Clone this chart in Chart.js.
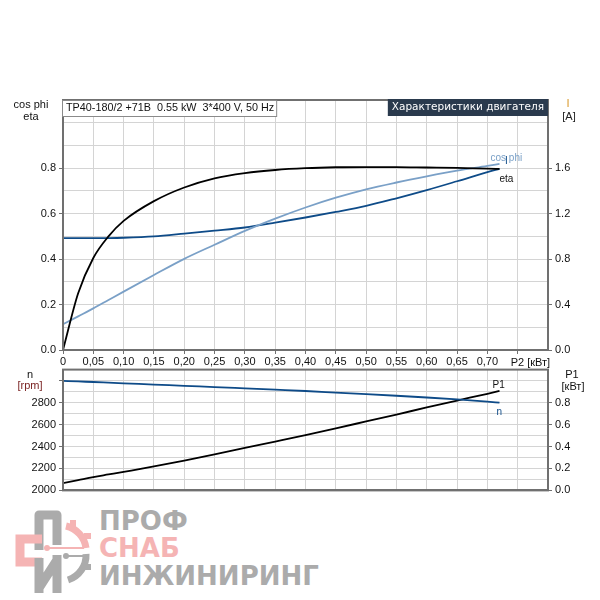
<!DOCTYPE html>
<html>
<head>
<meta charset="utf-8">
<script src="https://cdn.jsdelivr.net/npm/chart.js@4.4.1/dist/chart.umd.min.js"></script>
<style>
  body { margin: 0; background: #fff; width: 600px; height: 600px; position: relative; overflow: hidden; }
  #motorChart { position: absolute; left: 0; top: 0; }
  #speedChart { position: absolute; left: 0; top: 360px; }
  .logo-text { position: absolute; left: 99px; font-family: "DejaVu Sans", sans-serif; font-weight: bold; font-size: 26px; line-height: 26px; }
  #logoIcon { position: absolute; left: 0; top: 500px; }
</style>
</head>
<body>
<canvas id="motorChart" width="600" height="375"></canvas>
<canvas id="speedChart" width="600" height="140"></canvas>

<svg id="logoIcon" width="100" height="100" viewBox="0 0 100 100">
  <!-- П -->
  <path d="M39 50 V15 H57 V45" fill="none" stroke="#ababab" stroke-width="9" stroke-linejoin="round"/>
  <!-- С -->
  <path d="M42 39 H20 V62 H42" fill="none" stroke="#f5b4b4" stroke-width="9"/>
  <!-- И -->
  <path d="M39 93 V58 M57 55 V93 M39 88 L57 60" fill="none" stroke="#ababab" stroke-width="9"/>
  <!-- gear arcs -->
  <path d="M66 26 A26 26 0 0 1 86 48" fill="none" stroke="#f5b4b4" stroke-width="7"/>
  <path d="M86 54 A26 26 0 0 1 68 80" fill="none" stroke="#ababab" stroke-width="7"/>
  <rect x="70" y="20" width="6" height="7" fill="#f5b4b4"/>
  <rect x="84" y="33" width="7" height="6" fill="#f5b4b4"/>
  <rect x="84" y="64" width="7" height="6" fill="#ababab"/>
  <!-- connectors -->
  <line x1="47" y1="48" x2="84" y2="48" stroke="#f5b4b4" stroke-width="2"/>
  <circle cx="47" cy="48" r="3" fill="#f5b4b4"/>
  <line x1="66" y1="56" x2="84" y2="56" stroke="#ababab" stroke-width="2"/>
  <circle cx="66" cy="56" r="3" fill="#ababab"/>
</svg>
<div class="logo-text" style="top:508px;color:#ababab;">ПРОФ</div>
<div class="logo-text" style="top:535px;color:#f5b4b4;">СНАБ</div>
<div class="logo-text" style="top:563px;color:#ababab;">ИНЖИНИРИНГ</div>

<script>
// P2 [kW] sample points
const p2 = [0, 0.025, 0.05, 0.075, 0.1, 0.15, 0.2, 0.25, 0.3, 0.35, 0.4, 0.45, 0.5, 0.55, 0.6, 0.65, 0.7, 0.72];

// top chart: efficiency, power factor, current
const eta = [0, 0.25, 0.405, 0.50, 0.568, 0.655, 0.715, 0.755, 0.778, 0.792, 0.800, 0.804, 0.805, 0.805, 0.803, 0.801, 0.798, 0.797];
const cosPhi = [0.113, 0.148, 0.183, 0.22, 0.257, 0.33, 0.401, 0.463, 0.524, 0.578, 0.627, 0.670, 0.707, 0.737, 0.764, 0.789, 0.81, 0.819];
const current = [0.984, 0.984, 0.984, 0.985, 0.988, 1.0, 1.024, 1.05, 1.078, 1.12, 1.166, 1.215, 1.268, 1.335, 1.407, 1.485, 1.565, 1.594];

// bottom chart: speed and input power
const speed = [2998, 2992, 2987, 2981, 2975, 2964, 2952, 2941, 2929, 2917, 2905, 2891, 2877, 2862, 2846, 2828, 2808, 2799];
const p1 = [0.067, 0.094, 0.121, 0.145, 0.169, 0.218, 0.272, 0.329, 0.388, 0.445, 0.503, 0.565, 0.628, 0.691, 0.755, 0.818, 0.88, 0.906];

const headerText = 'TP40-180/2 +71B  0.55 kW  3*400 V, 50 Hz';
const panelTitle = 'Характеристики двигателя';

const GRID = '#d4d4d4';
const FRAME = '#707070';
const DARK_BLUE = '#0e4b88';
const LIGHT_BLUE = '#7aa0c7';
const tickFont = { family: '"Liberation Sans", Arial, sans-serif', size: 11 };

const pts = (ys) => p2.map((x, i) => ({ x: x, y: ys[i] }));
const hidden = 'rgba(0,0,0,0)';

function lineSet(label, ys, color, axis) {
  return {
    label: label,
    data: pts(ys),
    borderColor: color,
    borderWidth: 1.8,
    pointRadius: 0,
    cubicInterpolationMode: 'monotone',
    yAxisID: axis
  };
}

function lastPoint(chart, idx) {
  const d = chart.getDatasetMeta(idx).data;
  return d[d.length - 1];
}

function text(ctx, str, x, y, color, align, font) {
  ctx.fillStyle = color;
  ctx.textAlign = align;
  ctx.textBaseline = 'middle';
  ctx.font = font || '11px "Liberation Sans", Arial, sans-serif';
  ctx.fillText(str, x, y);
}

const motorDecor = {
  id: 'motorDecor',
  afterDraw(chart) {
    const { ctx, chartArea: a } = chart;
    ctx.save();
    ctx.strokeStyle = FRAME;
    ctx.lineWidth = 2;
    ctx.strokeRect(a.left, a.top, a.right - a.left, a.bottom - a.top);

    // header box
    const hFont = '10.8px "Liberation Sans", Arial, sans-serif';
    ctx.font = hFont;
    const hw = ctx.measureText(headerText).width + 6;
    ctx.fillStyle = '#fff';
    ctx.fillRect(a.left - 1, a.top, hw, 16);
    ctx.strokeStyle = '#8a8a8a';
    ctx.lineWidth = 1;
    ctx.strokeRect(a.left - 0.5, a.top + 0.5, hw, 16);
    text(ctx, headerText, a.left + 3, a.top + 8, '#111', 'left', hFont);

    // title box
    const tFont = '10.5px "DejaVu Sans", sans-serif';
    ctx.font = tFont;
    const tw = ctx.measureText(panelTitle).width + 8;
    ctx.fillStyle = '#2a3a4d';
    ctx.fillRect(a.right - tw, a.top - 1, tw, 17);
    text(ctx, panelTitle, a.right - tw + 4, a.top + 7.5, '#fff', 'left', tFont);

    // axis titles
    text(ctx, 'cos phi', a.left - 32, a.top + 5, '#111', 'center');
    text(ctx, 'eta', a.left - 32, a.top + 16.5, '#111', 'center');
    text(ctx, 'I', a.right + 20, a.top + 4, '#d99a2b', 'center');
    text(ctx, '[A]', a.right + 21, a.top + 17, '#222', 'center');

    // x axis unit in place of 0.75
    const xs = chart.scales.x;
    text(ctx, 'P2 [кВт]', xs.getPixelForValue(0.75) - 7, xs.top + 13, '#111', 'left');

    // curve labels
    const pe = lastPoint(chart, 0);
    const pc = lastPoint(chart, 1);
    const pi = lastPoint(chart, 2);
    const small = '10px "Liberation Sans", Arial, sans-serif';
    text(ctx, 'cos phi', pc.x - 9, pc.y - 6, LIGHT_BLUE, 'left', small);
    text(ctx, 'I', pi.x + 7, pi.y - 8, DARK_BLUE, 'center', small);
    text(ctx, 'eta', pe.x, pe.y + 10, '#111', 'left', small);
    ctx.restore();
  }
};

const speedDecor = {
  id: 'speedDecor',
  afterDraw(chart) {
    const { ctx, chartArea: a } = chart;
    ctx.save();
    ctx.strokeStyle = FRAME;
    ctx.lineWidth = 2;
    ctx.strokeRect(a.left, a.top, a.right - a.left, a.bottom - a.top);

    text(ctx, 'n', a.left - 33, a.top + 5, '#111', 'center');
    text(ctx, '[rpm]', a.left - 33, a.top + 16.5, '#7a2323', 'center');
    text(ctx, 'P1', a.right + 24, a.top + 5, '#111', 'center');
    text(ctx, '[кВт]', a.right + 25, a.top + 17, '#111', 'center');

    const pn = lastPoint(chart, 0);
    const pp = lastPoint(chart, 1);
    const small = '10px "Liberation Sans", Arial, sans-serif';
    text(ctx, 'P1', pp.x - 7, pp.y - 6, '#111', 'left', small);
    text(ctx, 'n', pn.x - 3, pn.y + 10, DARK_BLUE, 'left', small);
    ctx.restore();
  }
};

// helpers for tick filtering
const tenth = (v) => Math.round(v * 10);
const hundredth = (v) => Math.round(v * 100);

new Chart(document.getElementById('motorChart'), {
  type: 'line',
  data: {
    datasets: [
      lineSet('eta', eta, '#000', 'y'),
      lineSet('cos phi', cosPhi, LIGHT_BLUE, 'y'),
      lineSet('I', current, DARK_BLUE, 'yI')
    ]
  },
  options: {
    responsive: false,
    animation: false,
    layout: { padding: { top: 100, left: 0, right: 0, bottom: 0 } },
    plugins: { legend: { display: false }, tooltip: { enabled: false } },
    scales: {
      x: {
        type: 'linear', min: 0, max: 0.8,
        ticks: {
          stepSize: 0.05, autoSkip: false, maxRotation: 0, color: '#111', font: tickFont, padding: 1,
          callback: (v) => {
            const k = hundredth(v);
            if (k === 0) return '0';
            if (k >= 75) return '';
            return (k / 100).toFixed(2).replace('.', ',');
          }
        },
        grid: { color: GRID, tickLength: 4, tickColor: (c) => hundredth(c.tick.value) < 80 ? FRAME : hidden },
        border: { color: FRAME, width: 2 },
        afterFit: (s) => { s.height = 25; }
      },
      y: {
        position: 'left', min: 0, max: 1.1,
        ticks: {
          stepSize: 0.1, autoSkip: false, color: '#111', font: tickFont, padding: 3,
          callback: (v) => (tenth(v) % 2 === 0 && tenth(v) <= 8) ? (tenth(v) / 10).toFixed(1) : ''
        },
        grid: { color: GRID, tickLength: 4, tickColor: (c) => (tenth(c.tick.value) % 2 === 0 && tenth(c.tick.value) <= 8) ? FRAME : hidden },
        border: { color: FRAME, width: 2 },
        afterFit: (s) => { s.width = 63; }
      },
      yI: {
        position: 'right', min: 0, max: 2.2,
        ticks: {
          stepSize: 0.2, autoSkip: false, color: '#111', font: tickFont, padding: 3,
          callback: (v) => (tenth(v) % 4 === 0 && tenth(v) <= 16) ? (tenth(v) / 10).toFixed(1) : ''
        },
        grid: { drawOnChartArea: false, tickLength: 4, tickColor: (c) => (tenth(c.tick.value) % 4 === 0 && tenth(c.tick.value) <= 16) ? FRAME : hidden },
        border: { color: FRAME, width: 2 },
        afterFit: (s) => { s.width = 52; }
      }
    }
  },
  plugins: [motorDecor]
});

new Chart(document.getElementById('speedChart'), {
  type: 'line',
  data: {
    datasets: [
      lineSet('n', speed, DARK_BLUE, 'y'),
      lineSet('P1', p1, '#000', 'yP')
    ]
  },
  options: {
    responsive: false,
    animation: false,
    layout: { padding: { top: 8, left: 0, right: 0, bottom: 0 } },
    plugins: { legend: { display: false }, tooltip: { enabled: false } },
    scales: {
      x: {
        type: 'linear', min: 0, max: 0.8,
        ticks: { stepSize: 0.05, display: false },
        grid: { color: GRID, drawTicks: false },
        border: { color: FRAME, width: 2 },
        afterFit: (s) => { s.height = 9; }
      },
      y: {
        position: 'left', min: 2000, max: 3100,
        ticks: {
          stepSize: 100, autoSkip: false, color: '#111', font: tickFont, padding: 3,
          callback: (v) => (v % 200 === 0 && v <= 2800) ? String(v) : ''
        },
        grid: { color: GRID, tickLength: 4, tickColor: (c) => (c.tick.value % 200 === 0 && c.tick.value <= 3000) ? FRAME : hidden },
        border: { color: FRAME, width: 2 },
        afterFit: (s) => { s.width = 63; }
      },
      yP: {
        position: 'right', min: 0, max: 1.1,
        ticks: {
          stepSize: 0.1, autoSkip: false, color: '#111', font: tickFont, padding: 3,
          callback: (v) => (tenth(v) % 2 === 0 && tenth(v) <= 8) ? (tenth(v) / 10).toFixed(1) : ''
        },
        grid: { drawOnChartArea: false, tickLength: 4, tickColor: (c) => (tenth(c.tick.value) % 2 === 0 && tenth(c.tick.value) <= 8) ? FRAME : hidden },
        border: { color: FRAME, width: 2 },
        afterFit: (s) => { s.width = 52; }
      }
    }
  },
  plugins: [speedDecor]
});
</script>
</body>
</html>
